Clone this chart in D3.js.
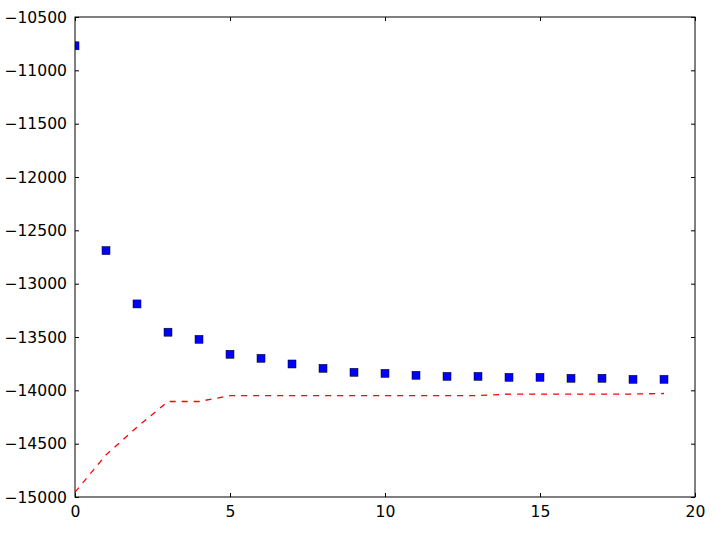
<!DOCTYPE html>
<html><head><meta charset="utf-8">
<script src="https://cdn.jsdelivr.net/npm/d3@7"></script>
<style>html,body{margin:0;padding:0;background:#fff}</style>
</head><body>
<script>
const xs = d3.range(0, 20);
const squares = [-10770, -12690, -13190, -13455, -13522, -13662, -13700, -13753, -13794, -13831,
                 -13841, -13859, -13869, -13869, -13878, -13878, -13887, -13887, -13897, -13897];
const dashed = [-14950, -14600, -14340, -14100, -14100, -14045, -14045, -14045, -14045, -14045,
                -14045, -14045, -14045, -14045, -14030, -14030, -14030, -14030, -14030, -14025];
const xTicks = [0, 5, 10, 15, 20];
const yTicks = d3.range(-15000, -10499, 500);

const W = 713, H = 534;
const m = {l: 75, r: 695, t: 17, b: 497};
const svg = d3.select("body").append("svg").attr("width", W).attr("height", H)
  .style("font-family", "DejaVu Sans").style("font-size", "15.6px");
const x = d3.scaleLinear().domain([0, 20]).range([m.l, m.r]);
const y = d3.scaleLinear().domain([-15000, -10500]).range([m.b, m.t]);

svg.append("clipPath").attr("id", "clip").append("rect")
  .attr("x", m.l).attr("y", m.t).attr("width", m.r - m.l).attr("height", m.b - m.t);

const g = svg.append("g").attr("clip-path", "url(#clip)");
g.append("path").datum(xs)
  .attr("d", d3.line().x(d => x(d)).y(d => y(dashed[d]) + 0.5))
  .attr("fill", "none").attr("stroke", "#ff0000").attr("stroke-width", 1.3)
  .attr("stroke-dasharray", "6,6");
const s = 8;
g.selectAll("rect.pt").data(xs).enter().append("rect")
  .attr("x", d => x(d) - s/2).attr("y", d => y(squares[d]) - s/2)
  .attr("width", s).attr("height", s)
  .attr("fill", "#0000ff").attr("stroke", "#000").attr("stroke-width", 0.5);

const fmt = v => String(v).replace("-", "\u2212");
const axB = d3.axisBottom(x).tickValues(xTicks).tickSizeInner(-4).tickSizeOuter(0).tickPadding(9).tickFormat(fmt);
const axT = d3.axisTop(x).tickValues(xTicks).tickSizeInner(-4).tickSizeOuter(0).tickFormat("");
const axL = d3.axisLeft(y).tickValues(yTicks).tickSizeInner(-4).tickSizeOuter(0).tickPadding(8).tickFormat(fmt);
const axR = d3.axisRight(y).tickValues(yTicks).tickSizeInner(-4).tickSizeOuter(0).tickFormat("");
function style(sel){
  sel.select(".domain").remove();
  sel.selectAll("line").attr("stroke", "#000").attr("stroke-width", 1);
  sel.selectAll("text").attr("fill", "#000").style("font-family", "DejaVu Sans").style("font-size", "15.6px");
}
svg.append("g").attr("transform", `translate(0,${m.b})`).call(axB).call(style);
svg.append("g").attr("transform", `translate(0,${m.t})`).call(axT).call(style);
svg.append("g").attr("transform", `translate(${m.l},0)`).call(axL).call(style);
svg.append("g").attr("transform", `translate(${m.r},0)`).call(axR).call(style);
svg.append("rect").attr("x", m.l).attr("y", m.t).attr("width", m.r - m.l).attr("height", m.b - m.t)
  .attr("fill", "none").attr("stroke", "#000").attr("stroke-width", 1);
</script>
</body></html>
